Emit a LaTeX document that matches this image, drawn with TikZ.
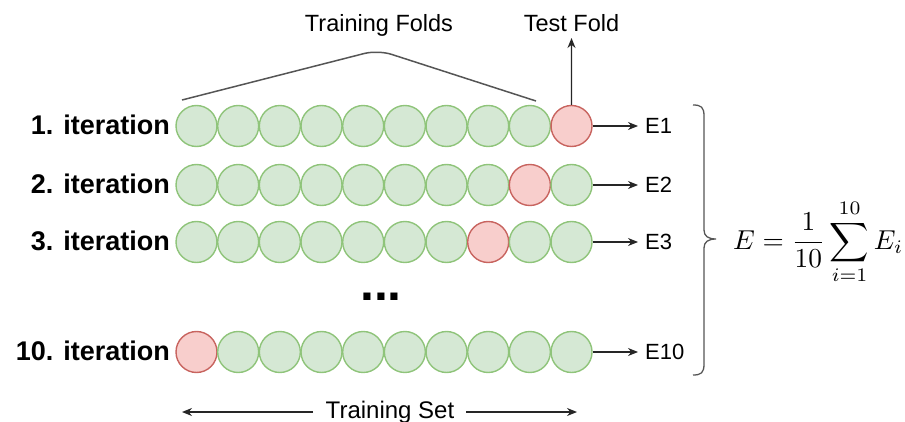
\documentclass[tikz,border=0pt]{standalone}
\usepackage{fontspec}
\setmainfont{Liberation Sans}
\usetikzlibrary{arrows.meta,calc}
\definecolor{gfill}{HTML}{D5E8D4}
\definecolor{gdraw}{HTML}{8FC47A}
\definecolor{rfill}{HTML}{F8CECC}
\definecolor{rdraw}{HTML}{C8645F}
\definecolor{lgray}{HTML}{555555}
\begin{document}
\begin{tikzpicture}[x=1pt,y=-1pt,
  fold/.style={circle,minimum size=41pt,inner sep=0pt,line width=1.4pt,draw=gdraw,fill=gfill},
  testfold/.style={fold,draw=rdraw,fill=rfill},
  itlabel/.style={anchor=base east,font=\fontsize{27}{30}\selectfont\bfseries,inner sep=0pt},
  elabel/.style={anchor=base west,font=\fontsize{22}{26}\selectfont,inner sep=0pt},
  toplabel/.style={anchor=base,font=\fontsize{23.5}{28}\selectfont,inner sep=0pt},
  arr/.style={-{Stealth[length=10pt,width=8pt]},line width=1.3pt,black!85},
  gline/.style={line width=1.5pt,lgray}]
\useasboundingbox (0,0) rectangle (905,422);

% rows: row index, y, red position
\foreach \r/\yy/\red/\lab/\e in {1/126/10/1/E1, 2/185/9/2/E2, 3/242/8/3/E3, 4/352/1/10/E10}{
  \foreach \c in {1,...,10}{
    \pgfmathsetmacro{\xx}{196.5+(\c-1)*41.67}
    \ifnum\c=\red
      \node[testfold] (r\r c\c) at (\xx,\yy) {};
    \else
      \node[fold] (r\r c\c) at (\xx,\yy) {};
    \fi
  }
  \node[itlabel] (it\r) at (170,\yy+8.5) {\lab. iteration};
  \node[elabel] (e\r) at (645,\yy+7.5) {\e};
  \coordinate (etip\r) at (638,\yy);
  \draw[arr] (r\r c10.east) -- (etip\r);
}

% dots
\node[anchor=base,font=\fontsize{50}{54}\selectfont\bfseries,inner sep=0pt] (dots) at (381,300) {...};

% top labels
\node[toplabel] (tf) at (379,32) {Training Folds};
\node[toplabel] (test) at (571.5,32) {Test Fold};
\coordinate (testtip) at (571.5,38);
\draw[arr] (r1c10.north) -- (testtip);

% training folds bracket
\coordinate (bl) at (182,100);
\coordinate (bp) at (378,50);
\coordinate (br) at (536,101);
\draw[gline,rounded corners=14pt] (bl) -- (bp) -- (br);

% right brace
\draw[line width=1.3pt,lgray] (693,105) .. controls (701,105) and (704,107) .. (704,116)
  -- (704,230) .. controls (704,236) and (708,239) .. (716,239)
  .. controls (708,239) and (704,242) .. (704,248)
  -- (704,364) .. controls (704,373) and (701,375) .. (693,375);

% formula
\node[anchor=west,inner sep=0pt] (formula) at (733,242)
  {\resizebox{170pt}{!}{$\displaystyle E=\frac{1}{10}\sum_{i=1}^{10}E_i$}};

% training set
\node[anchor=base,font=\fontsize{24}{28}\selectfont,inner sep=0pt] (ts) at (390,418) {Training Set};
\coordinate (tsL) at (182,412);
\coordinate (tsR) at (577,412);
\draw[arr] (313,412) -- (tsL);
\draw[arr] (466,412) -- (tsR);
\end{tikzpicture}
\end{document}
